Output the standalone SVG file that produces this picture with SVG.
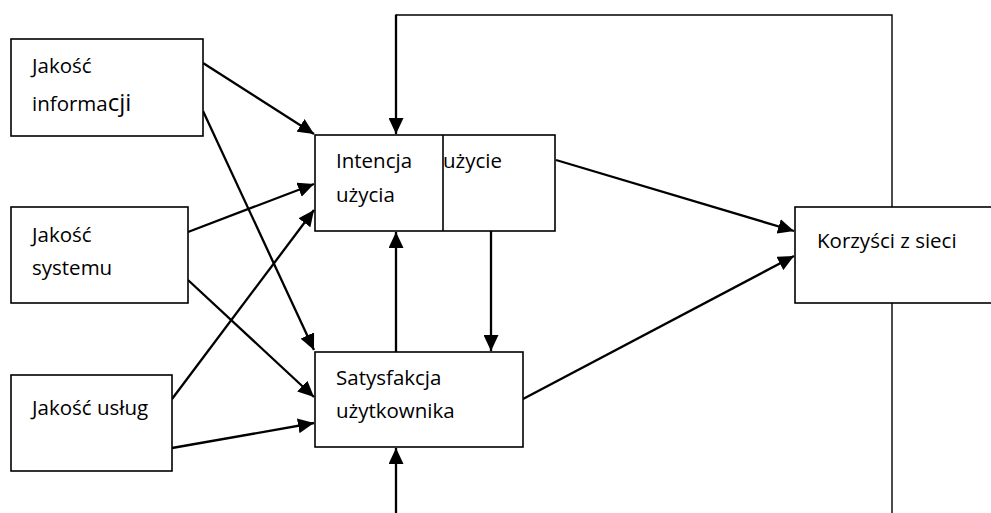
<svg xmlns="http://www.w3.org/2000/svg" width="991" height="513" viewBox="0 0 991 513">
<style>
.box{fill:#fff;stroke:#000;stroke-width:1.6}
.t{font-family:"Open Sans","Liberation Sans",sans-serif;font-size:20.5px;fill:#000}
.a{fill:none;stroke:#000;stroke-width:2.3;marker-end:url(#ah)}
.thin{fill:none;stroke:#000;stroke-width:1.4}
.thick{fill:none;stroke:#000;stroke-width:2.3}
</style>
<defs>
<marker id="ah" markerUnits="userSpaceOnUse" markerWidth="16" markerHeight="15" refX="16" refY="7.5" orient="auto">
<path d="M0,0 L16,7.5 L0,15 z" fill="#000"/>
</marker>
</defs>
<rect width="991" height="513" fill="#fff"/>
<g id="connectors">
<polyline class="thin" points="892,513 892,303"/>
<polyline class="thin" points="892,207 892,15 396,15"/>
<line class="a" x1="396" y1="14.5" x2="396" y2="134"/>
<line class="a" x1="203" y1="63" x2="314" y2="134"/>
<line class="a" x1="203" y1="111" x2="314" y2="350"/>
<line class="a" x1="188" y1="232" x2="314" y2="184"/>
<line class="a" x1="188" y1="280" x2="314" y2="397"/>
<line class="a" x1="172" y1="399" x2="314" y2="210"/>
<line class="a" x1="172" y1="448" x2="314" y2="423"/>
<line class="a" x1="396" y1="352" x2="396" y2="232"/>
<line class="a" x1="491" y1="231" x2="491" y2="351"/>
<line class="a" x1="396" y1="513" x2="396" y2="448"/>
<line class="a" x1="556" y1="160" x2="794" y2="231"/>
<line class="a" x1="523" y1="399" x2="794" y2="256"/>
</g>
<g id="n-informacji">
<rect class="box" x="11" y="39" width="192" height="97"/>
<text class="t" x="32" y="73">Jakość</text>
<text class="t" x="32" y="111">informa<tspan font-size="24">cji</tspan></text>
</g>
<g id="n-systemu">
<rect class="box" x="11" y="207" width="177" height="96"/>
<text class="t" x="32" y="242">Jakość</text>
<text class="t" x="32" y="275">systemu</text>
</g>
<g id="n-uslug">
<rect class="box" x="11" y="375" width="161" height="96"/>
<text class="t" x="32" y="415">Jakość usług</text>
</g>
<g id="n-intencja">
<rect class="box" x="315" y="135" width="240" height="96"/>
<line x1="443" y1="135" x2="443" y2="231" stroke="#000" stroke-width="1.6"/>
<text class="t" x="336" y="168">Intencja</text>
<text class="t" x="336" y="202">użycia</text>
<text class="t" x="443" y="168">użycie</text>
</g>
<g id="n-satysfakcja">
<rect class="box" x="315" y="352" width="208" height="95"/>
<text class="t" x="336" y="385">Satysfakcja</text>
<text class="t" x="336" y="418">użytkownika</text>
</g>
<g id="n-korzysci">
<rect class="box" x="795" y="207" width="200" height="96"/>
<text class="t" x="817" y="248">Korzyści z sieci</text>
</g>
</svg>
